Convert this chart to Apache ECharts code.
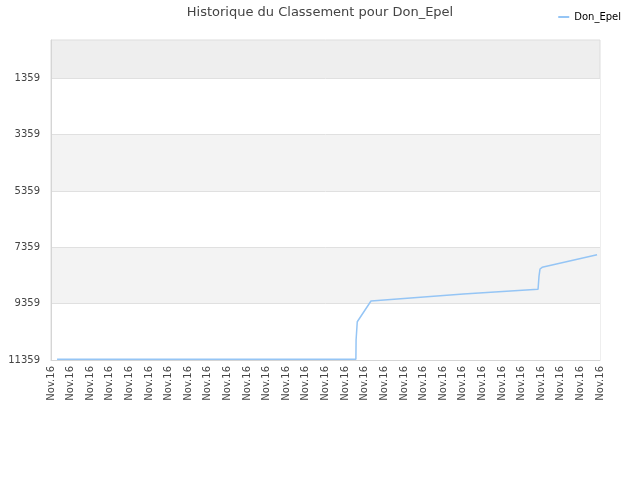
<!DOCTYPE html>
<html>
<head>
<meta charset="utf-8">
<script src="https://cdn.jsdelivr.net/npm/echarts@6/dist/echarts.min.js"></script>
<style>
  html, body { margin: 0; padding: 0; background: #fff; }
  #chart { width: 640px; height: 480px; }
</style>
</head>
<body>
<div id="chart"></div>
<script>
// x labels (one per tick), all the same month
const xLabels = ['Nov.16', 'Nov.16', 'Nov.16', 'Nov.16', 'Nov.16', 'Nov.16', 'Nov.16', 'Nov.16',
    'Nov.16', 'Nov.16', 'Nov.16', 'Nov.16', 'Nov.16', 'Nov.16', 'Nov.16', 'Nov.16', 'Nov.16',
    'Nov.16', 'Nov.16', 'Nov.16', 'Nov.16', 'Nov.16', 'Nov.16', 'Nov.16', 'Nov.16', 'Nov.16',
    'Nov.16', 'Nov.16', 'Nov.16'];

// y ticks (rank)
const yTicks = [1359, 3359, 5359, 7359, 9359, 11359];

// positions along the x axis (in tick units) and rank values
const xPos  = [0.31, 15.55, 15.56, 15.62, 16.32, 21.03, 24.84, 24.89, 24.94, 25.05, 27.85];
const ranks = [11335, 11335, 10650, 10000, 9265, 9020, 8850, 8380, 8130, 8070, 7625];

const chart = echarts.init(document.getElementById('chart'));

const option = {
    animation: false,
    title: {
        text: 'Historique du Classement pour Don_Epel',
        left: 'center',
        top: 1,
        textStyle: {
            fontFamily: 'DejaVu Sans',
            fontSize: 13,
            fontWeight: 'normal',
            color: '#444'
        }
    },
    legend: {
        right: 14,
        top: 7,
        icon: 'rect',
        itemWidth: 11,
        itemHeight: 2,
        itemGap: 6,
        textStyle: {
            fontFamily: 'DejaVu Sans',
            fontSize: 10,
            color: '#000'
        },
        data: ['Don_Epel']
    },
    grid: {
        left: 51,
        right: 40,
        top: 40,
        bottom: 120,
        show: true,
        backgroundColor: '#eeeeee',
        borderColor: '#dddddd',
        borderWidth: 1
    },
    xAxis: {
        type: 'value',
        min: 0,
        max: xLabels.length - 1,
        interval: 1,
        axisLine: { show: true, onZero: false, lineStyle: { color: '#d5d5d5' } },
        axisTick: { show: false },
        splitLine: { show: false },
        axisLabel: {
            rotate: 90,
            margin: 6,
            fontFamily: 'DejaVu Sans',
            fontSize: 10,
            color: '#444',
            formatter: v => xLabels[Math.round(v)] || ''
        }
    },
    yAxis: {
        type: 'value',
        inverse: true,
        min: 0,
        max: 11359,
        axisLine: { show: true, lineStyle: { color: '#d5d5d5' } },
        axisTick: { show: false, customValues: yTicks },
        splitLine: { show: true, lineStyle: { color: '#e0e0e0' } },
        splitArea: { show: true, areaStyle: { color: ['#ffffff', '#f3f3f3'] } },
        axisLabel: {
            customValues: yTicks,
            margin: 11,
            fontFamily: 'DejaVu Sans',
            fontSize: 10,
            color: '#444',
            formatter: v => String(v)
        }
    },
    series: [{
        name: 'Don_Epel',
        type: 'line',
        data: xPos.map((x, i) => [x, ranks[i]]),
        showSymbol: false,
        symbol: 'none',
        lineStyle: { color: '#95c5f5', width: 1.5 },
        itemStyle: { color: '#95c5f5' }
    }]
};

chart.setOption(option);
</script>
</body>
</html>
